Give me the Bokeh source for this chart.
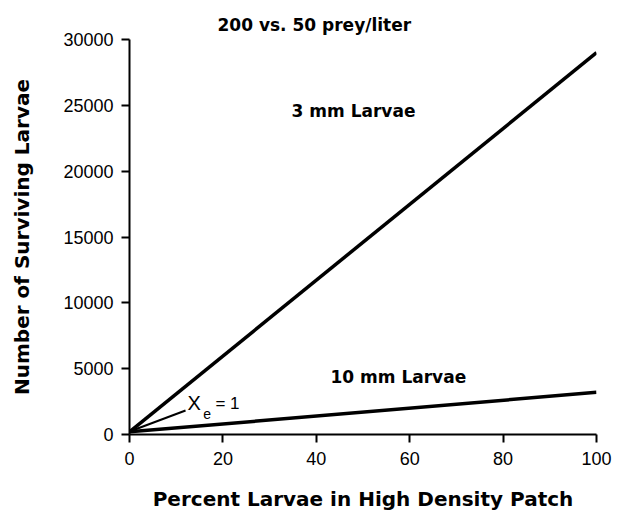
from bokeh.plotting import figure
from bokeh.models import Range1d, FixedTicker, Title, ColumnDataSource
from bokeh.core.properties import value
from bokeh.embed import file_html
from bokeh.resources import INLINE

# Data
pct_high = [0, 100]
larvae_3mm = [200, 29000]
larvae_10mm = [200, 3200]
x_ticks = [0, 20, 40, 60, 80, 100]
y_ticks = [0, 5000, 10000, 15000, 20000, 25000, 30000]

label_names = ["3 mm  Larvae", "10 mm  Larvae"]
label_x = [48.6, 58.2]
label_y = [24600, 4330]

leader_x = [0.6, 12.0]
leader_y = [300, 1820]

BOLD = "DejaVu Sans"
REG = "Liberation Sans"

p = figure(width=617, height=516, output_backend="svg", toolbar_location=None,
           x_range=Range1d(0, 100), y_range=Range1d(0, 30000),
           min_border_left=129, min_border_right=21, min_border_top=39, min_border_bottom=82)
p.outline_line_color = None
p.grid.visible = False
p.background_fill_color = "white"
p.border_fill_color = "white"

p.line(pct_high, larvae_3mm, line_width=3.5, line_color="black")
p.line(pct_high, larvae_10mm, line_width=3.5, line_color="black")
p.line(leader_x, leader_y, line_width=2, line_color="black")

src = ColumnDataSource(dict(x=label_x, y=label_y, t=label_names))
p.text(x="x", y="y", text="t", source=src, text_font=value(BOLD), text_font_style="bold",
       text_font_size="17px", text_align="center", text_baseline="middle", text_color="black")

p.text(x=[12.4], y=[2390], text=["X"], text_font=value(REG), text_font_size="20px",
       text_align="left", text_baseline="middle", text_color="black")
p.text(x=[15.8], y=[1520], text=["e"], text_font=value(REG), text_font_size="14px",
       text_align="left", text_baseline="middle", text_color="black")
p.text(x=[18.4], y=[2350], text=["= 1"], text_font=value(REG), text_font_size="17px",
       text_align="left", text_baseline="middle", text_color="black")

for ax in (p.xaxis[0], p.yaxis[0]):
    ax.axis_line_width = 2
    ax.axis_line_color = "black"
    ax.major_tick_line_width = 2
    ax.major_tick_line_color = "black"
    ax.major_tick_in = 0
    ax.major_tick_out = 8
    ax.minor_tick_line_color = None
    ax.major_label_text_font = REG
    ax.major_label_text_font_size = "18px"
    ax.major_label_text_color = "black"
    ax.axis_label_text_font = BOLD
    ax.axis_label_text_font_style = "bold"
    ax.axis_label_text_font_size = "20px"
    ax.axis_label_text_color = "black"

p.xaxis.ticker = FixedTicker(ticks=x_ticks)
p.yaxis.ticker = FixedTicker(ticks=y_ticks)
p.xaxis.major_label_standoff = 9
p.yaxis.major_label_standoff = 8
p.xaxis.axis_label = "Percent Larvae in High Density Patch"
p.yaxis.axis_label = "Number of Surviving Larvae"
p.xaxis.axis_label_standoff = 19
p.yaxis.axis_label_standoff = 26

p.title = Title(text="200  vs.  50  prey/liter", align="left", offset=88,
                text_font=BOLD, text_font_style="bold", text_font_size="17px",
                text_color="black")

open("out.html", "w").write(file_html(p, INLINE))
